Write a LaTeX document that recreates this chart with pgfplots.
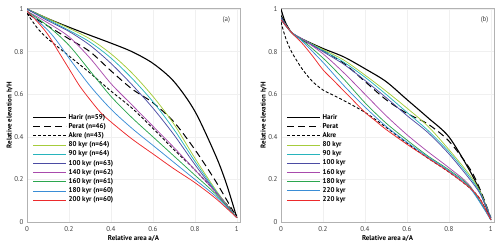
\documentclass[border=0pt]{standalone}
\usepackage{fontspec}
\setmainfont{PT Sans}
\usepackage{pgfplots}
\pgfplotsset{compat=1.18}
\definecolor{c80}{HTML}{A6CC3C}
\definecolor{c90}{HTML}{27B4BC}
\definecolor{c100}{HTML}{4B4CA3}
\definecolor{c140}{HTML}{A84AAC}
\definecolor{c160}{HTML}{2BA64E}
\definecolor{c180}{HTML}{3A8DD6}
\definecolor{c200}{HTML}{EC2A2C}
\pgfplotsset{
  myaxis/.style={
    scale only axis, width=213bp, height=214bp,
    xmin=0, xmax=1.015, ymin=0, ymax=1.005,
    xtick={0,0.2,0.4,0.6,0.8,1}, ytick={0,0.2,0.4,0.6,0.8,1},
    xticklabels={0,0.2,0.4,0.6,0.8,1}, yticklabels={0,0.2,0.4,0.6,0.8,1},
    grid=major, grid style={gray!12, line width=0.5pt},
    axis line style={gray!60, line width=0.8pt},
    major tick length=0pt,
    tick label style={font=\fontsize{7}{8}\selectfont, text=black!75},
    xticklabel style={yshift=-1bp},
    /pgf/number format/assume math mode=true,
    label style={font=\fontsize{7}{8}\selectfont\bfseries},
    xlabel={Relative area a/A}, ylabel={Relative elevation h/H},
    xlabel style={yshift=3bp}, ylabel style={yshift=-5bp},
    legend cell align=left,
    legend style={draw=none, fill=none, at={(0.025,0.51)}, anchor=north west,
      font=\fontsize{7}{8}\selectfont\bfseries, row sep=0.3bp, inner sep=0pt,
      nodes={inner ysep=1.2bp}},
    legend image code/.code={\draw[##1] (0bp,0bp) -- (33bp,0bp);},
    every axis plot/.append style={smooth, tension=0.5},
  },
  harir/.style={black, line width=1.1pt},
  perat/.style={black, line width=1.0pt, dash pattern=on 7bp off 4bp},
  akre/.style={black, line width=0.9pt, dash pattern=on 3bp off 2bp},
  col/.style={#1, line width=0.75pt},
}
\begin{document}
\begin{tikzpicture}[x=1bp,y=1bp]
\path[use as bounding box] (0,0) rectangle (500,246);
\begin{axis}[myaxis, at={(27bp,24bp)}, anchor=south west]
\addplot[harir] coordinates {(0,1)(0.1,0.955)(0.2,0.915)(0.3,0.877)(0.4,0.84)(0.5,0.80)(0.6,0.745)(0.7,0.66)(0.8,0.52)(0.9,0.31)(0.95,0.18)(1,0.02)};
\addlegendentry{Harir (n=59)}
\addplot[perat] coordinates {(0,0.98)(0.1,0.92)(0.2,0.86)(0.3,0.80)(0.4,0.71)(0.5,0.625)(0.6,0.56)(0.7,0.47)(0.8,0.34)(0.9,0.19)(1,0.02)};
\addlegendentry{Perat (n=46)}
\addplot[akre] coordinates {(0,0.98)(0.05,0.91)(0.1,0.86)(0.2,0.78)(0.3,0.70)(0.4,0.615)(0.5,0.535)(0.6,0.44)(0.7,0.34)(0.8,0.245)(0.9,0.14)(1,0.03)};
\addlegendentry{Akre (n=43)}
\addplot[col=c80] coordinates {(0,1)(0.1,0.955)(0.2,0.91)(0.3,0.86)(0.4,0.79)(0.5,0.70)(0.6,0.59)(0.7,0.46)(0.8,0.30)(0.9,0.15)(1,0.02)};
\addlegendentry{80 kyr (n=64)}
\addplot[col=c90] coordinates {(0,1)(0.1,0.95)(0.2,0.90)(0.3,0.845)(0.4,0.77)(0.5,0.675)(0.6,0.565)(0.7,0.435)(0.8,0.285)(0.9,0.145)(1,0.02)};
\addlegendentry{90 kyr (n=64)}
\addplot[col=c100] coordinates {(0,1)(0.1,0.945)(0.2,0.895)(0.3,0.83)(0.4,0.745)(0.5,0.645)(0.6,0.535)(0.7,0.41)(0.8,0.27)(0.9,0.14)(1,0.02)};
\addlegendentry{100 kyr (n=63)}
\addplot[col=c140] coordinates {(0,0.99)(0.1,0.935)(0.2,0.87)(0.3,0.77)(0.4,0.65)(0.5,0.55)(0.6,0.45)(0.7,0.35)(0.8,0.245)(0.9,0.14)(1,0.02)};
\addlegendentry{140 kyr (n=62)}
\addplot[col=c160] coordinates {(0,0.99)(0.1,0.92)(0.2,0.83)(0.3,0.71)(0.4,0.59)(0.5,0.49)(0.6,0.40)(0.7,0.31)(0.8,0.22)(0.9,0.13)(1,0.02)};
\addlegendentry{160 kyr (n=61)}
\addplot[col=c180] coordinates {(0,0.99)(0.1,0.90)(0.15,0.84)(0.2,0.77)(0.3,0.64)(0.4,0.53)(0.5,0.44)(0.6,0.36)(0.7,0.28)(0.8,0.20)(0.9,0.12)(1,0.02)};
\addlegendentry{180 kyr (n=60)}
\addplot[col=c200] coordinates {(0,0.99)(0.05,0.94)(0.1,0.88)(0.15,0.80)(0.2,0.72)(0.25,0.64)(0.3,0.575)(0.35,0.515)(0.4,0.47)(0.5,0.39)(0.6,0.32)(0.7,0.25)(0.8,0.185)(0.9,0.11)(1,0.02)};
\addlegendentry{200 kyr (n=60)}
\node[font=\fontsize{7}{8}\selectfont, text=black!75] at (axis cs:0.95,0.95) {(a)};
\end{axis}
\begin{axis}[myaxis, at={(281bp,24bp)}, anchor=south west]
\addplot[harir] coordinates {(0,1)(0.02,0.94)(0.05,0.89)(0.1,0.86)(0.2,0.815)(0.3,0.775)(0.4,0.72)(0.5,0.66)(0.6,0.575)(0.7,0.49)(0.8,0.40)(0.9,0.24)(0.95,0.14)(1,0.01)};
\addlegendentry{Harir}
\addplot[perat] coordinates {(0,0.97)(0.05,0.89)(0.1,0.855)(0.2,0.805)(0.3,0.745)(0.4,0.66)(0.5,0.575)(0.6,0.51)(0.7,0.46)(0.8,0.38)(0.9,0.25)(0.95,0.15)(1,0.02)};
\addlegendentry{Perat}
\addplot[akre] coordinates {(0,0.94)(0.02,0.87)(0.05,0.80)(0.1,0.72)(0.15,0.66)(0.2,0.62)(0.25,0.595)(0.3,0.57)(0.4,0.515)(0.5,0.445)(0.6,0.37)(0.7,0.30)(0.8,0.235)(0.9,0.16)(0.95,0.105)(1,0.01)};
\addlegendentry{Akre}
\addplot[col=c80] coordinates {(0,0.96)(0.05,0.89)(0.1,0.86)(0.2,0.81)(0.3,0.76)(0.4,0.69)(0.5,0.615)(0.6,0.535)(0.7,0.45)(0.8,0.34)(0.9,0.22)(0.95,0.14)(1,0.02)};
\addlegendentry{80 kyr}
\addplot[col=c90] coordinates {(0,0.96)(0.05,0.89)(0.1,0.86)(0.2,0.805)(0.3,0.75)(0.4,0.68)(0.5,0.60)(0.6,0.515)(0.7,0.43)(0.8,0.33)(0.9,0.21)(0.95,0.135)(1,0.02)};
\addlegendentry{90 kyr}
\addplot[col=c100] coordinates {(0,0.96)(0.05,0.89)(0.1,0.86)(0.2,0.80)(0.3,0.74)(0.4,0.665)(0.5,0.585)(0.6,0.50)(0.7,0.42)(0.8,0.32)(0.9,0.20)(0.95,0.13)(1,0.02)};
\addlegendentry{100 kyr}
\addplot[col=c140] coordinates {(0,0.95)(0.05,0.89)(0.1,0.86)(0.2,0.79)(0.3,0.70)(0.4,0.60)(0.5,0.50)(0.6,0.41)(0.7,0.33)(0.8,0.255)(0.9,0.17)(1,0.01)};
\addlegendentry{160 kyr}
\addplot[col=c160] coordinates {(0,0.95)(0.05,0.89)(0.1,0.855)(0.2,0.77)(0.3,0.67)(0.4,0.56)(0.5,0.465)(0.6,0.385)(0.7,0.31)(0.8,0.245)(0.9,0.165)(1,0.01)};
\addlegendentry{180 kyr}
\addplot[col=c180] coordinates {(0,0.95)(0.05,0.89)(0.1,0.85)(0.2,0.75)(0.3,0.64)(0.4,0.54)(0.5,0.45)(0.6,0.375)(0.7,0.305)(0.8,0.24)(0.9,0.16)(1,0.01)};
\addlegendentry{220 kyr}
\addplot[col=c200] coordinates {(0,0.95)(0.05,0.89)(0.1,0.84)(0.15,0.78)(0.2,0.715)(0.25,0.665)(0.3,0.615)(0.35,0.565)(0.4,0.515)(0.45,0.475)(0.5,0.435)(0.6,0.365)(0.7,0.30)(0.8,0.235)(0.9,0.16)(0.95,0.105)(1,0.01)};
\addlegendentry{220 kyr}
\node[font=\fontsize{7}{8}\selectfont, text=black!75] at (axis cs:0.97,0.95) {(b)};
\end{axis}
\end{tikzpicture}
\end{document}
